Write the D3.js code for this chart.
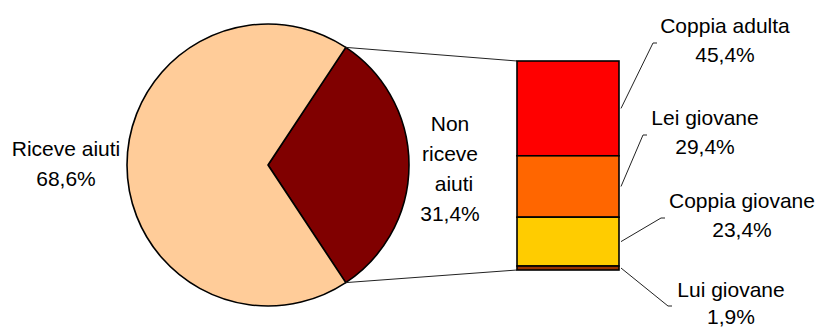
<!DOCTYPE html>
<html>
<head>
<meta charset="utf-8">
<script src="https://cdn.jsdelivr.net/npm/d3@7"></script>
<style>
  html, body { margin: 0; padding: 0; background: #fff; }
  svg { display: block; }
  text { font-family: "Liberation Sans", Arial, sans-serif; font-size: 21px; fill: #000; }
</style>
</head>
<body>
<svg id="chart" width="819" height="329"></svg>
<script>
// Main split: households receiving help vs not
const pieCategories = ["Non riceve aiuti", "Riceve aiuti"];
const pieValues = [31.4, 68.6];
const pieColors = ["#800000", "#FFCC99"];
const pieLabelLines = [["Non", "riceve", "aiuti", "31,4%"], ["Riceve aiuti", "68,6%"]];

// Breakdown of the "Non riceve aiuti" share
const barCategories = ["Coppia adulta", "Lei giovane", "Coppia giovane", "Lui giovane"];
const barValues = [45.4, 29.4, 23.4, 1.9];
const barLabels = ["45,4%", "29,4%", "23,4%", "1,9%"];
const barColors = ["#FF0000", "#FF6600", "#FFCC00", "#993300"];

const svg = d3.select("#chart");

// ---- pie ----
const cx = 268, cy = 165, r = 141;
const darkAngle = 2 * Math.PI * pieValues[0] / d3.sum(pieValues);
const start = Math.PI / 2 - darkAngle / 2;
const pie = d3.pie().sort(null).value(d => d).startAngle(start).endAngle(start + 2 * Math.PI);
const arcs = pie(pieValues);
const arc = d3.arc().innerRadius(0).outerRadius(r);

const pg = svg.append("g").attr("transform", `translate(${cx},${cy})`);
pg.selectAll("path").data(arcs).join("path")
  .attr("d", arc)
  .attr("fill", (d, i) => pieColors[i])
  .attr("stroke", "#000")
  .attr("stroke-width", 1.6)
  .attr("stroke-linejoin", "round");

// ---- stacked bar ----
const barX0 = 517, barX1 = 619, barTop = 61, barBottom = 270;
const y = d3.scaleLinear().domain([0, d3.sum(barValues)]).range([barTop, barBottom]);
const cum = d3.cumsum(barValues);
const segs = barValues.map((v, i) => ({ v, y0: i ? cum[i - 1] : 0, y1: cum[i], i }));

// connectors from the slice edges to the bar corners
const pt = a => [cx + r * Math.sin(a), cy - r * Math.cos(a)];
const pTop = pt(arcs[0].startAngle), pBot = pt(arcs[0].endAngle);
svg.append("line").attr("x1", pTop[0]).attr("y1", pTop[1]).attr("x2", barX0).attr("y2", y(0))
  .attr("stroke", "#222").attr("stroke-width", 1);
svg.append("line").attr("x1", pBot[0]).attr("y1", pBot[1]).attr("x2", barX0).attr("y2", y(d3.sum(barValues)))
  .attr("stroke", "#222").attr("stroke-width", 1);

svg.append("g").selectAll("rect").data(segs).join("rect")
  .attr("x", barX0).attr("width", barX1 - barX0)
  .attr("y", d => y(d.y0)).attr("height", d => y(d.y1) - y(d.y0))
  .attr("fill", d => barColors[d.i])
  .attr("stroke", "#000").attr("stroke-width", 1.6);

// ---- pie labels ----
const pieLabelPos = [{ x: 450, y: 131 }, { x: 66, y: 156 }];
pieLabelLines.forEach((lines, i) => {
  const t = svg.append("text").attr("text-anchor", "middle")
    .attr("x", pieLabelPos[i].x).attr("y", pieLabelPos[i].y);
  lines.forEach((s, k) => t.append("tspan").attr("x", pieLabelPos[i].x + (i === 0 && k === 2 ? 4 : 0))
    .attr("dy", k ? 30 : 0).text(s));
});

// ---- bar labels with leader lines ----
const barLabelPos = [
  { x: 725, y: 33, lx: 655, ly: 43 },
  { x: 705, y: 125, lx: 645, ly: 135 },
  { x: 742, y: 208, lx: 663, ly: 218 },
  { x: 731, y: 297, lx: 670, ly: 306 }
];
segs.forEach((d, i) => {
  const p = barLabelPos[i];
  const ym = (y(d.y0) + y(d.y1)) / 2;
  svg.append("path")
    .attr("d", `M${barX1 + 2},${ym}L${p.lx - 2},${p.ly}L${p.lx + 2},${p.ly}`)
    .attr("fill", "none").attr("stroke", "#222").attr("stroke-width", 1);
  const t = svg.append("text").attr("text-anchor", "middle").attr("x", p.x).attr("y", p.y);
  t.append("tspan").attr("x", p.x).text(barCategories[i]);
  t.append("tspan").attr("x", p.x).attr("dy", i === 3 ? 27 : 29).text(barLabels[i]);
});
</script>
</body>
</html>
